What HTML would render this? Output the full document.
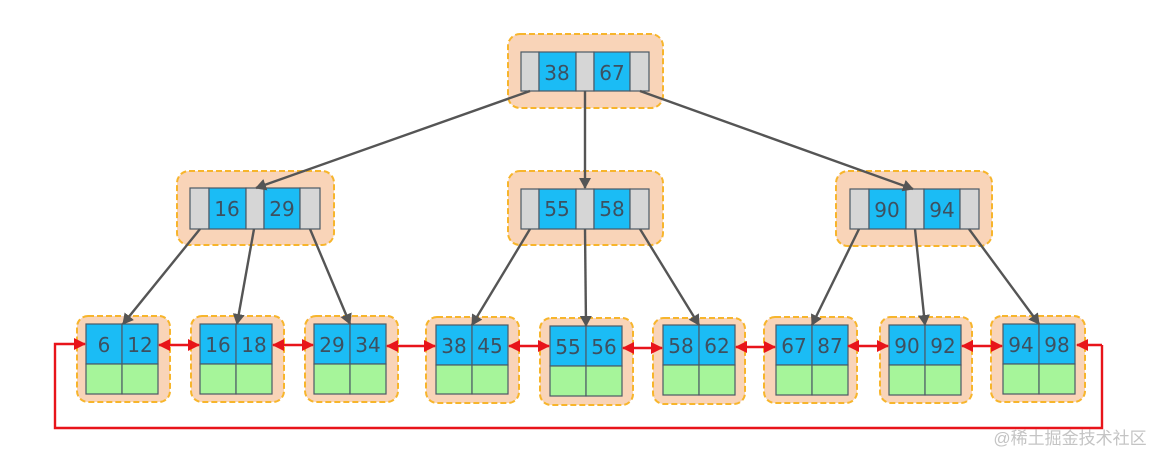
<!DOCTYPE html>
<html><head><meta charset="utf-8"><style>
html,body{margin:0;padding:0;background:#fff;width:1158px;height:453px;overflow:hidden}
svg text{font-family:"DejaVu Sans","Liberation Sans",sans-serif;font-size:20px;fill:#3d5060;text-anchor:middle}
.o{fill:#f9d4b8;stroke:#f7b52c;stroke-width:2;stroke-dasharray:6 3}
.b{fill:#1bbcf5;stroke:#4b5966;stroke-width:1.2}
.g{fill:#d6d6d6;stroke:#4b5966;stroke-width:1.2}
.n{fill:#a6f59a;stroke:#4b5966;stroke-width:1.2}
.a{stroke:#555;stroke-width:2.4;fill:none;marker-end:url(#ga)}
.r{stroke:#e8141a;stroke-width:2.4;fill:none;marker-start:url(#rs);marker-end:url(#re)}
</style></head><body>
<svg width="1158" height="453" xmlns="http://www.w3.org/2000/svg">
<defs>
<marker id="ga" markerWidth="12" markerHeight="12" refX="10" refY="6" orient="auto" markerUnits="userSpaceOnUse"><path d="M0,0 L11,6 L0,12 z" fill="#555"/></marker>
<marker id="re" markerWidth="12" markerHeight="12" refX="11" refY="6" orient="auto" markerUnits="userSpaceOnUse"><path d="M0,0 L12,6 L0,12 z" fill="#e8141a"/></marker>
<marker id="rs" markerWidth="12" markerHeight="12" refX="1" refY="6" orient="auto" markerUnits="userSpaceOnUse"><path d="M12,0 L0,6 L12,12 z" fill="#e8141a"/></marker>
</defs>
<g>
<rect class="o" x="508" y="34" width="155" height="74" rx="12"/>
<rect class="g" x="521" y="52" width="18" height="39"/><rect class="b" x="539" y="52" width="37" height="39"/><rect class="g" x="576" y="52" width="18" height="39"/><rect class="b" x="594" y="52" width="36" height="39"/><rect class="g" x="630" y="52" width="19" height="39"/>
<text x="557" y="80">38</text><text x="612" y="80">67</text>
</g>
<g>
<rect class="o" x="177" y="171" width="157" height="74" rx="12"/>
<rect class="g" x="190" y="188" width="19" height="41"/><rect class="b" x="209" y="188" width="37" height="41"/><rect class="g" x="246" y="188" width="18" height="41"/><rect class="b" x="264" y="188" width="36" height="41"/><rect class="g" x="300" y="188" width="20" height="41"/>
<text x="227" y="216">16</text><text x="282" y="216">29</text>
</g>
<g>
<rect class="o" x="508" y="171" width="155" height="74" rx="12"/>
<rect class="g" x="521" y="189" width="18" height="40"/><rect class="b" x="539" y="189" width="37" height="40"/><rect class="g" x="576" y="189" width="18" height="40"/><rect class="b" x="594" y="189" width="36" height="40"/><rect class="g" x="630" y="189" width="19" height="40"/>
<text x="557" y="216">55</text><text x="612" y="216">58</text>
</g>
<g>
<rect class="o" x="836" y="171" width="156" height="75" rx="12"/>
<rect class="g" x="850" y="189" width="19" height="40"/><rect class="b" x="869" y="189" width="37" height="40"/><rect class="g" x="906" y="189" width="18" height="40"/><rect class="b" x="924" y="189" width="36" height="40"/><rect class="g" x="960" y="189" width="19" height="40"/>
<text x="887" y="217">90</text><text x="942" y="217">94</text>
</g>
<g>
<rect class="o" x="77" y="316" width="93" height="86" rx="11"/>
<rect class="b" x="86" y="324" width="36" height="40"/><rect class="b" x="122" y="324" width="36" height="40"/><rect class="n" x="86" y="364" width="36" height="30"/><rect class="n" x="122" y="364" width="36" height="30"/>
<text x="104" y="352">6</text><text x="140" y="352">12</text>
<rect class="o" x="191" y="316" width="93" height="86" rx="11"/>
<rect class="b" x="200" y="324" width="36" height="40"/><rect class="b" x="236" y="324" width="36" height="40"/><rect class="n" x="200" y="364" width="36" height="30"/><rect class="n" x="236" y="364" width="36" height="30"/>
<text x="218" y="352">16</text><text x="254" y="352">18</text>
<rect class="o" x="305" y="316" width="93" height="86" rx="11"/>
<rect class="b" x="314" y="324" width="36" height="40"/><rect class="b" x="350" y="324" width="36" height="40"/><rect class="n" x="314" y="364" width="36" height="30"/><rect class="n" x="350" y="364" width="36" height="30"/>
<text x="332" y="352">29</text><text x="368" y="352">34</text>
<rect class="o" x="426" y="317" width="93" height="86" rx="11"/>
<rect class="b" x="436" y="325" width="36" height="40"/><rect class="b" x="472" y="325" width="36" height="40"/><rect class="n" x="436" y="365" width="36" height="29"/><rect class="n" x="472" y="365" width="36" height="29"/>
<text x="454" y="353">38</text><text x="490" y="353">45</text>
<rect class="o" x="540" y="318" width="93" height="87" rx="11"/>
<rect class="b" x="550" y="326" width="36" height="40"/><rect class="b" x="586" y="326" width="36" height="40"/><rect class="n" x="550" y="366" width="36" height="30"/><rect class="n" x="586" y="366" width="36" height="30"/>
<text x="568" y="354">55</text><text x="604" y="354">56</text>
<rect class="o" x="653" y="318" width="92" height="86" rx="11"/>
<rect class="b" x="663" y="325" width="36" height="40"/><rect class="b" x="699" y="325" width="36" height="40"/><rect class="n" x="663" y="365" width="36" height="30"/><rect class="n" x="699" y="365" width="36" height="30"/>
<text x="681" y="353">58</text><text x="717" y="353">62</text>
<rect class="o" x="764" y="317" width="93" height="86" rx="11"/>
<rect class="b" x="776" y="325" width="36" height="40"/><rect class="b" x="812" y="325" width="36" height="40"/><rect class="n" x="776" y="365" width="36" height="30"/><rect class="n" x="812" y="365" width="36" height="30"/>
<text x="794" y="353">67</text><text x="830" y="353">87</text>
<rect class="o" x="880" y="317" width="92" height="86" rx="11"/>
<rect class="b" x="889" y="325" width="36" height="40"/><rect class="b" x="925" y="325" width="36" height="40"/><rect class="n" x="889" y="365" width="36" height="30"/><rect class="n" x="925" y="365" width="36" height="30"/>
<text x="907" y="353">90</text><text x="943" y="353">92</text>
<rect class="o" x="991" y="316" width="94" height="86" rx="11"/>
<rect class="b" x="1003" y="324" width="36" height="40"/><rect class="b" x="1039" y="324" width="36" height="40"/><rect class="n" x="1003" y="364" width="36" height="30"/><rect class="n" x="1039" y="364" width="36" height="30"/>
<text x="1021" y="352">94</text><text x="1057" y="352">98</text>
</g>
<line class="a" x1="530" y1="91" x2="256" y2="188"/>
<line class="a" x1="585" y1="91" x2="585" y2="188"/>
<line class="a" x1="640" y1="91" x2="913" y2="189"/>
<line class="a" x1="200" y1="229" x2="123" y2="324"/>
<line class="a" x1="254" y1="229" x2="237" y2="324"/>
<line class="a" x1="310" y1="229" x2="350" y2="324"/>
<line class="a" x1="530" y1="229" x2="472" y2="325"/>
<line class="a" x1="585" y1="229" x2="586" y2="326"/>
<line class="a" x1="640" y1="229" x2="699" y2="325"/>
<line class="a" x1="859" y1="229" x2="812" y2="325"/>
<line class="a" x1="915" y1="229" x2="925" y2="325"/>
<line class="a" x1="969" y1="229" x2="1039" y2="324"/>
<line class="r" x1="159" y1="345" x2="199" y2="345"/>
<line class="r" x1="273" y1="345" x2="313" y2="345"/>
<line class="r" x1="387" y1="346" x2="435" y2="346"/>
<line class="r" x1="509" y1="346" x2="549" y2="346"/>
<line class="r" x1="623" y1="348" x2="662" y2="348"/>
<line class="r" x1="736" y1="347" x2="775" y2="347"/>
<line class="r" x1="848" y1="346" x2="888" y2="346"/>
<line class="r" x1="962" y1="346" x2="1002" y2="346"/>
<path d="M1102,345 L1102,428 L55,428 L55,344 L85,344" stroke="#e8141a" stroke-width="2.4" fill="none" marker-end="url(#re)"/>
<path d="M1102,345 L1077,345" stroke="#e8141a" stroke-width="2.4" fill="none" marker-end="url(#re)"/>
<text x="1070" y="444" style="font-family:'Liberation Sans','Noto Sans CJK SC',sans-serif;font-size:17px;fill:#c4c4c4">@稀土掘金技术社区</text>
</svg>
</body></html>
